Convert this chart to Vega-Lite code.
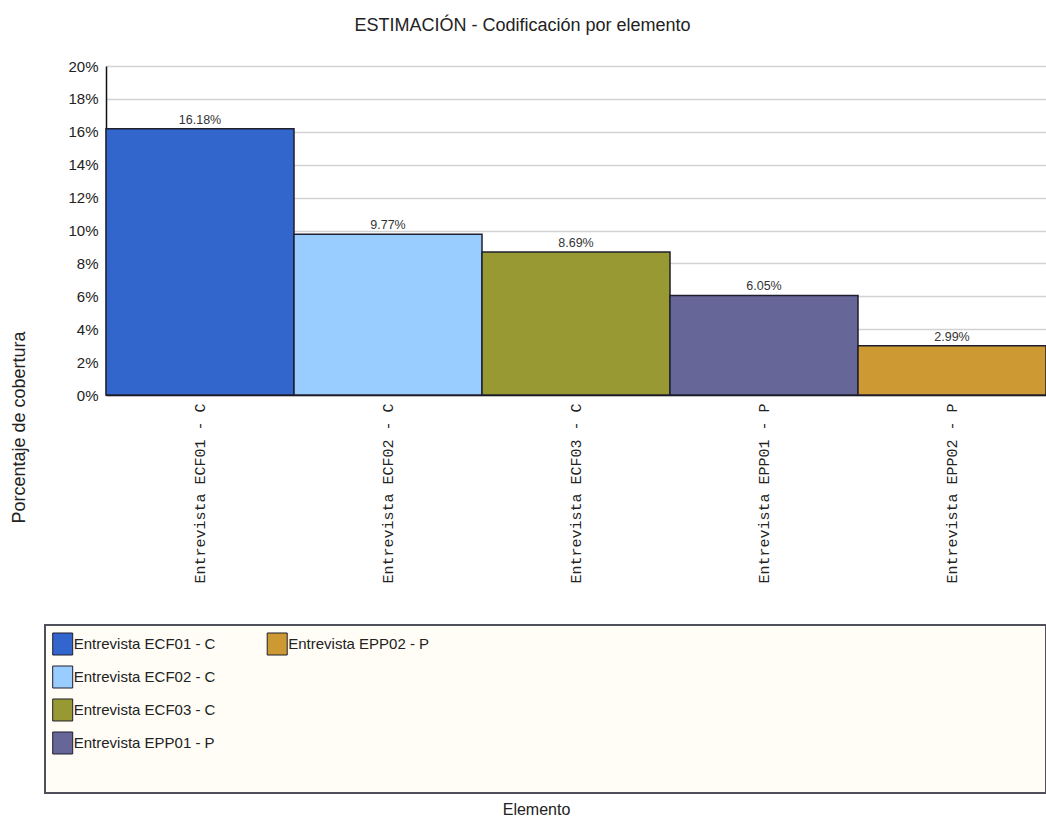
{
  "$schema": "https://vega.github.io/schema/vega-lite/v6.json",
  "padding": {"left": 10, "top": 17, "right": 0, "bottom": 0},
  "background": "white",
  "title": {
    "text": "ESTIMACIÓN - Codificación por elemento",
    "font": "Liberation Sans",
    "fontSize": 18,
    "fontWeight": "normal",
    "color": "#222222",
    "anchor": "middle",
    "dx": -6,
    "offset": 24
  },
  "data": {
    "values": [
      {"Elemento": "Entrevista ECF01 - C", "Porcentaje": 0.1618},
      {"Elemento": "Entrevista ECF02 - C", "Porcentaje": 0.0977},
      {"Elemento": "Entrevista ECF03 - C", "Porcentaje": 0.0869},
      {"Elemento": "Entrevista EPP01 - P", "Porcentaje": 0.0605},
      {"Elemento": "Entrevista EPP02 - P", "Porcentaje": 0.0299}
    ]
  },
  "spacing": 40,
  "vconcat": [
    {
      "spacing": 21,
      "hconcat": [
        {
          "width": 1,
          "height": 329,
          "view": {"stroke": null},
          "mark": {"type": "point", "opacity": 0, "size": 0},
          "encoding": {
            "y": {
              "field": "Porcentaje", "type": "quantitative",
              "scale": {"domain": [0, 0.2], "nice": false},
              "axis": {
                "labels": false, "ticks": false, "domain": false, "grid": false,
                "title": "Porcentaje de cobertura", "titleFont": "Liberation Sans", "titleFontSize": 18,
                "titleFontWeight": "normal", "titleColor": "#222222", "titleAngle": -90,
                "titleAlign": "center", "titleBaseline": "middle", "titleX": -26, "titleY": 361
              }
            }
          }
        },
        {
          "width": 940,
          "height": 329,
          "view": {"stroke": null},
          "layer": [
            {
              "mark": {"type": "bar", "stroke": "#1f1f2e", "strokeWidth": 1.5},
              "encoding": {
                "x": {
                  "field": "Elemento", "type": "nominal", "sort": null,
                  "scale": {"paddingInner": 0, "paddingOuter": 0},
                  "axis": {
                    "title": null, "labelAngle": -90, "labelFont": "Liberation Mono", "labelFontSize": 15,
                    "labelColor": "#222222", "labelPadding": 8, "ticks": false, "domainColor": "#111111",
                    "domainWidth": 1.5, "grid": false, "labelLimit": 0
                  }
                },
                "y": {
                  "field": "Porcentaje", "type": "quantitative",
                  "scale": {"domain": [0, 0.2], "nice": false},
                  "axis": {
                    "values": [0, 0.02, 0.04, 0.06, 0.08, 0.1, 0.12, 0.14, 0.16, 0.18, 0.2],
                    "tickCount": 20, "labelOverlap": false,
                    "format": ".0%", "grid": true, "gridColor": "#d2d2d2", "gridWidth": 1.5,
                    "domainColor": "#111111", "domainWidth": 1.5, "ticks": false, "labelPadding": 8,
                    "labelFont": "Liberation Sans", "labelFontSize": 15, "labelColor": "#222222",
                    "title": null
                  }
                },
                "color": {
                  "field": "Elemento", "type": "nominal", "sort": null,
                  "scale": {
                    "domain": ["Entrevista ECF01 - C", "Entrevista ECF02 - C", "Entrevista ECF03 - C", "Entrevista EPP01 - P", "Entrevista EPP02 - P"],
                    "range": ["#3366CC", "#99CCFF", "#999933", "#666699", "#CC9933"]
                  },
                  "legend": null
                }
              }
            },
            {
              "mark": {"type": "text", "baseline": "bottom", "dy": -2, "fontSize": 12.5, "font": "Liberation Sans", "color": "#333333"},
              "encoding": {
                "x": {"field": "Elemento", "type": "nominal", "sort": null},
                "y": {"field": "Porcentaje", "type": "quantitative"},
                "text": {"field": "Porcentaje", "type": "quantitative", "format": ".2%"}
              }
            }
          ]
        }
      ]
    },
    {
      "width": 1001,
      "height": 168,
      "view": {"fill": "#FFFDF6", "stroke": "#50505c", "strokeWidth": 2},
      "transform": [
        {"window": [{"op": "row_number", "as": "i"}]},
        {"calculate": "floor((datum.i - 1) / 4)", "as": "col"},
        {"calculate": "(datum.i - 1) % 4", "as": "row"}
      ],
      "encoding": {
        "x": {
          "field": "col", "type": "quantitative",
          "scale": {"domain": [-0.0825, 4.584], "nice": false, "zero": false},
          "axis": {
            "labels": false, "ticks": false, "domain": false, "grid": false,
            "title": "Elemento", "titleFont": "Liberation Sans", "titleFontSize": 16,
            "titleFontWeight": "normal", "titleColor": "#222222", "titleAlign": "center",
            "titleBaseline": "middle", "titleX": 491, "titleY": 16
          }
        },
        "y": {
          "field": "row", "type": "quantitative",
          "scale": {"domain": [-0.5758, 4.5152], "nice": false, "zero": false, "reverse": true},
          "axis": null
        }
      },
      "layer": [
        {
          "mark": {"type": "point", "shape": "M-1,-1.1H1V1.1H-1Z", "filled": true, "size": 400, "stroke": "#1f1f2e", "strokeWidth": 1, "opacity": 1},
          "encoding": {
            "color": {
              "field": "Elemento", "type": "nominal", "sort": null,
              "scale": {
                "domain": ["Entrevista ECF01 - C", "Entrevista ECF02 - C", "Entrevista ECF03 - C", "Entrevista EPP01 - P", "Entrevista EPP02 - P"],
                "range": ["#3366CC", "#99CCFF", "#999933", "#666699", "#CC9933"]
              },
              "legend": null
            }
          }
        },
        {
          "mark": {"type": "text", "align": "left", "baseline": "middle", "dx": 11, "fontSize": 15, "font": "Liberation Sans", "color": "#222222"},
          "encoding": {
            "text": {"field": "Elemento", "type": "nominal"}
          }
        }
      ]
    }
  ]
}
